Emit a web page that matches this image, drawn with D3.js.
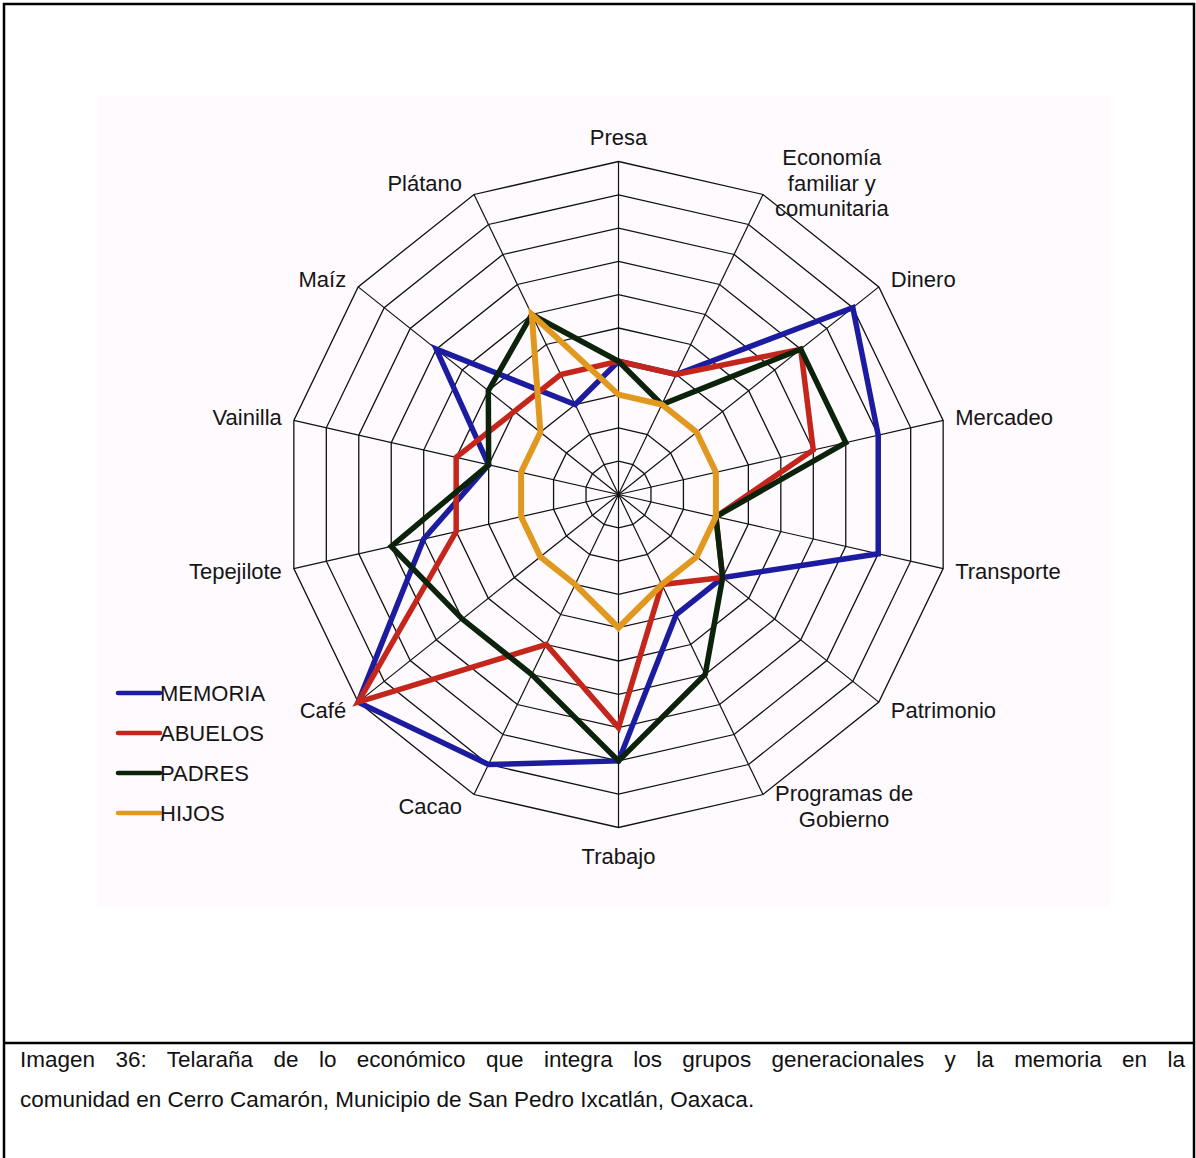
<!DOCTYPE html>
<html><head><meta charset="utf-8">
<script src="https://cdn.jsdelivr.net/npm/d3@7"></script>
<style>body{margin:0;background:#fff}svg{display:block}</style>
</head><body>
<svg id="chart" width="1196" height="1158"></svg>
<script>
// ---- data ----
const categories = ["Presa","Economía\nfamiliar y\ncomunitaria","Dinero","Mercadeo","Transporte","Patrimonio","Programas de\nGobierno","Trabajo","Cacao","Café","Tepejilote","Vainilla","Maíz","Plátano"];
const seriesNames = ["MEMORIA","ABUELOS","PADRES","HIJOS"];
const memoria = [4,4,9,8,8,4,4,8,9,10,6,4,7,3];
const abuelos = [4,4,7,6,3,4,3,7,5,10,5,5,4,4];
const padres  = [4,3,7,7,3,4,6,8,6,6,7,4,5,6];
const hijos   = [3,3,3,3,3,3,3,4,3,3,3,3,3,6];
const ringValues = [1,2,3,4,5,6,7,8,9,10];
const captionLines = ["Imagen 36: Telaraña de lo económico que integra los grupos generacionales y la memoria en la",
                      "comunidad en Cerro Camarón, Municipio de San Pedro Ixcatlán, Oaxaca."];

const seriesData = [memoria, abuelos, padres, hijos];
const colors = ["#1c1ca0","#c4261c","#0b230b","#e0981f"];
const FONT = "'Liberation Sans', Arial, Helvetica, sans-serif";

// ---- layout ----
const svg = d3.select("#chart");
const cx = 618.5, cy = 494.5, R = 333;
const n = categories.length;
const r = d3.scaleLinear().domain([0,10]).range([0,R]);
const ang = d3.scaleLinear().domain([0,n]).range([0,2*Math.PI]);

// frame and background
svg.append("rect").attr("x",4).attr("y",4).attr("width",1190).attr("height",1170)
  .attr("fill","none").attr("stroke","#000").attr("stroke-width",2.5);
svg.append("line").attr("x1",4).attr("x2",1194).attr("y1",1043).attr("y2",1043)
  .attr("stroke","#000").attr("stroke-width",2.5);
svg.append("rect").attr("x",97).attr("y",95).attr("width",1013).attr("height",812).attr("fill","#fefafe");

const g = svg.append("g").attr("transform",`translate(${cx},${cy})`);

// grid rings
const ringLine = d3.lineRadial().angle((d,i)=>ang(i)).radius(d=>r(d)).curve(d3.curveLinearClosed);
g.selectAll("path.ring").data(ringValues).join("path").attr("class","ring")
  .attr("d", v => ringLine(d3.range(n).map(()=>v)))
  .attr("fill","none").attr("stroke","#111").attr("stroke-width",1.3);

// spokes
g.selectAll("line.spoke").data(d3.range(n)).join("line").attr("class","spoke")
  .attr("x1",0).attr("y1",0)
  .attr("x2",i=>r(10)*Math.sin(ang(i))).attr("y2",i=>-r(10)*Math.cos(ang(i)))
  .attr("stroke","#111").attr("stroke-width",1.2);

// series
const seriesLine = d3.lineRadial().angle((d,i)=>ang(i)).radius(d=>r(d)).curve(d3.curveLinearClosed);
g.selectAll("path.series").data(seriesData).join("path").attr("class","series")
  .attr("d", d=>seriesLine(d)).attr("fill","none")
  .attr("stroke",(d,i)=>colors[i]).attr("stroke-width",(d,i)=>i===3?6:5.5)
  .attr("stroke-linejoin","miter").attr("stroke-miterlimit",10);

// axis labels
const fs = 22, lh = 25.5;
categories.forEach((c,i)=>{
  const a = ang(i), s = Math.sin(a), co = Math.cos(a);
  const vx = r(10)*s, vy = -r(10)*co;
  const lines = c.split("\n");
  let x, yc, anchor;
  if (Math.abs(s) < 0.1) {
    anchor = "middle"; x = vx; yc = co > 0 ? vy - 24 : vy + 29;
  } else {
    anchor = s > 0 ? "start" : "end";
    x = vx + (s > 0 ? 12 : -12);
    yc = vy - 13*co;
  }
  const t = g.append("text").attr("text-anchor",anchor)
    .attr("font-family",FONT).attr("font-size",fs).attr("fill","#151515");
  const y0 = yc - (lines.length-1)*lh/2 + 7.8;
  const spans = lines.map((l,k)=> t.append("tspan").attr("x",x).attr("y",y0 + k*lh).text(l));
  if (lines.length > 1) {
    // centre the lines of a multi-line label within its block
    const maxW = d3.max(spans, sp => sp.node().getComputedTextLength());
    const mid = anchor === "start" ? x + maxW/2 : anchor === "end" ? x - maxW/2 : x;
    t.attr("text-anchor","middle");
    spans.forEach(sp => sp.attr("x", mid));
  }
});

// legend
const lg = svg.append("g").attr("transform","translate(118,693)");
seriesNames.forEach((nm,i)=>{
  lg.append("line").attr("x1",0).attr("x2",42).attr("y1",i*40).attr("y2",i*40)
    .attr("stroke",colors[i]).attr("stroke-width",4.5).attr("stroke-linecap","round");
  lg.append("text").attr("x",42).attr("y",i*40+8)
    .attr("font-family",FONT).attr("font-size",22).attr("fill","#151515").text(nm);
});

// caption
const capX = 20, capW = 1165;
captionLines.forEach((l,k)=>{
  const t = svg.append("text").attr("x",capX).attr("y",1067 + k*40)
    .attr("font-family",FONT).attr("font-size",22.5).attr("fill","#111").text(l);
  if (k === 0) {
    const w = t.node().getComputedTextLength();
    const spaces = (l.match(/ /g)||[]).length;
    t.attr("word-spacing", (capW - w)/spaces);
  }
});
</script>
</body></html>
